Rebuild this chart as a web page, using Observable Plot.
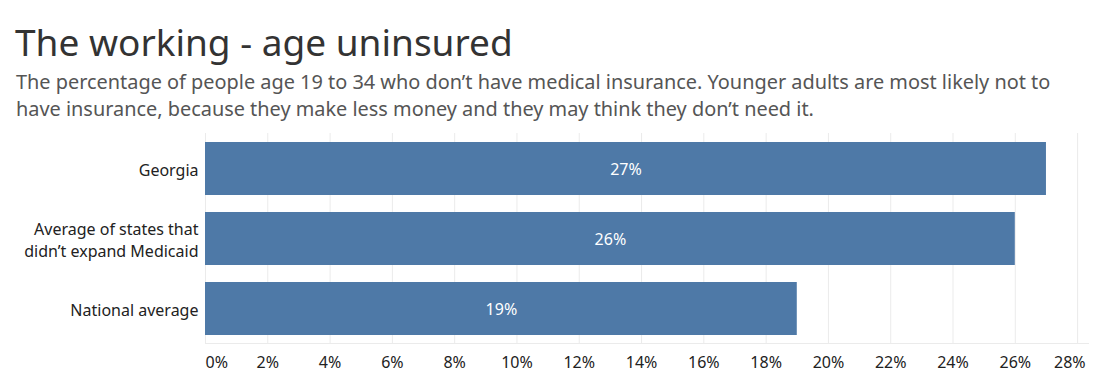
<!DOCTYPE html>
<html>
<head>
<meta charset="utf-8">
<script src="https://cdn.jsdelivr.net/npm/d3@7"></script>
<script src="https://cdn.jsdelivr.net/npm/@observablehq/plot@0.6"></script>
<style>
  html, body { margin: 0; padding: 0; background: #fff; }
  body { width: 1099px; height: 391px; position: relative; overflow: hidden; font-family: "Noto Sans", sans-serif; }
  #title { position: absolute; left: 15px; top: 23px; font-size: 37px; color: #333; line-height: 1; white-space: nowrap; }
  #subtitle { position: absolute; left: 16px; top: 68px; font-size: 19.9px; color: #555; line-height: 27px; white-space: nowrap; }
  #chart { position: absolute; left: 0; top: 125px; }
</style>
</head>
<body>
<div id="title"></div>
<div id="subtitle"></div>
<div id="chart"></div>
<script>
const titleText = "The working - age uninsured";
const subtitleLines = [
  "The percentage of people age 19 to 34 who don\u2019t have medical insurance. Younger adults are most likely not to",
  "have insurance, because they make less money and they may think they don\u2019t need it."
];
const categories = ["Georgia", "Average of states that\ndidn\u2019t expand Medicaid", "National average"];
const values = [27, 26, 19];
const tickValues = [0, 2, 4, 6, 8, 10, 12, 14, 16, 18, 20, 22, 24, 26, 28];

document.getElementById("title").textContent = titleText;
const sub = document.getElementById("subtitle");
subtitleLines.forEach((l, i) => {
  const d = document.createElement("div");
  d.textContent = l;
  sub.appendChild(d);
});

const data = categories.map((c, i) => ({category: c, value: values[i]}));
const firstTick = tickValues.slice(0, 1);
const lastTick = tickValues.slice(-1);
const midTicks = tickValues.slice(1, -1);
const fmt = d => d + "%";

const chart = Plot.plot({
  width: 1099,
  height: 266,
  marginLeft: 205,
  marginRight: 11,
  marginTop: 8,
  marginBottom: 48,
  style: {fontFamily: "Noto Sans, sans-serif", background: "#fff"},
  x: {domain: [0, 28.35], ticks: tickValues},
  y: {domain: categories, paddingInner: 0.247, paddingOuter: 0.1235},
  marks: [
    Plot.gridX(tickValues, {stroke: "#ebebeb", strokeOpacity: 1, strokeWidth: 1}),
    Plot.frame({anchor: "bottom", stroke: "#ebebeb"}),
    Plot.barX(data, {x: "value", y: "category", fill: "#4e79a7"}),
    Plot.text(data, {x: d => d.value / 2, y: "category", text: d => d.value + "%", fill: "white", fontSize: 16, dy: 1}),
    Plot.axisX(midTicks, {tickSize: 0, tickPadding: 13, fontSize: 16, color: "#222", tickFormat: fmt, label: null}),
    Plot.axisX(firstTick, {tickSize: 0, tickPadding: 13, fontSize: 16, color: "#222", tickFormat: fmt, label: null, textAnchor: "start", dx: 0}),
    Plot.axisX(lastTick, {tickSize: 0, tickPadding: 13, fontSize: 16, color: "#222", tickFormat: fmt, label: null, textAnchor: "end", dx: 8}),
    Plot.axisY({tickSize: 0, tickPadding: 7, fontSize: 16, color: "#222", lineHeight: 1.35, label: null})
  ]
});
document.getElementById("chart").appendChild(chart);
</script>
</body>
</html>
